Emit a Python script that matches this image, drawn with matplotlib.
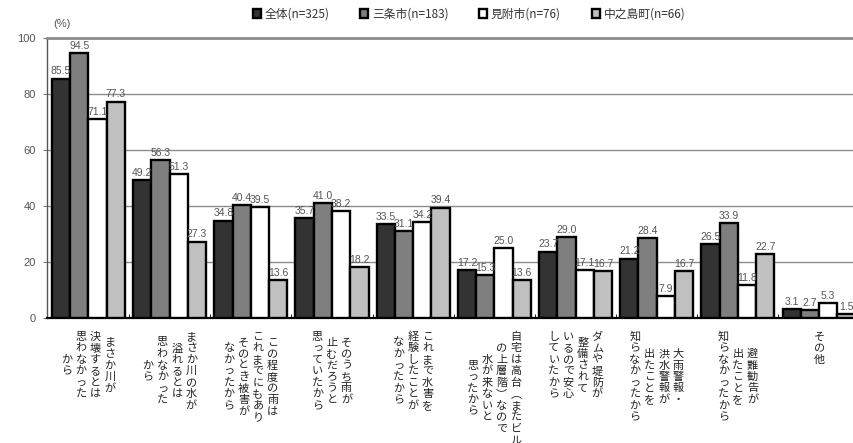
import matplotlib
matplotlib.use("Agg")
import numpy as np
import matplotlib.pyplot as plt

plt.rcParams['font.family'] = ['Noto Sans CJK JP', 'DejaVu Sans']

# reasons for not evacuating, one list of vertical text columns per category
reasons = [
    ["まさか川が", "決壊するとは", "思わなかった", "から"],
    ["まさか川の水が", "溢れるとは", "思わなかった", "から"],
    ["この程度の雨は", "これまでにもあり", "そのとき被害が", "なかったから"],
    ["そのうち雨が", "止むだろうと", "思っていたから"],
    ["これまで水害を", "経験したことが", "なかったから"],
    ["自宅は高台︵またビル", "の上層階︶なので", "水が来ないと", "思ったから"],
    ["ダムや堤防が", "整備されて", "いるので安心", "していたから"],
    ["大雨警報・", "洪水警報が", "出たことを", "知らなかったから"],
    ["避難勧告が", "出たことを", "知らなかったから"],
    ["その他"],
]
series = ["全体(n=325)", "三条市(n=183)", "見附市(n=76)", "中之島町(n=66)"]
zentai = [85.5, 49.2, 34.8, 35.7, 33.5, 17.2, 23.7, 21.2, 26.5, 3.1]
sanjo = [94.5, 56.3, 40.4, 41.0, 31.1, 15.3, 29.0, 28.4, 33.9, 2.7]
mitsuke = [71.1, 51.3, 39.5, 38.2, 34.2, 25.0, 17.1, 7.9, 11.8, 5.3]
nakanoshima = [77.3, 27.3, 13.6, 18.2, 39.4, 13.6, 16.7, 16.7, 22.7, 1.5]
colors = ['#333333', '#7f7f7f', '#ffffff', '#c0c0c0']

fig = plt.figure(figsize=(8.54, 4.43), dpi=100)
ax = fig.add_axes([47 / 854, 125 / 443, 1 - 47 / 854, 280 / 443])

x = np.arange(len(reasons))
w = 0.225
handles = []
for k, vals in enumerate([zentai, sanjo, mitsuke, nakanoshima]):
    pos = x + (k - 1.5) * w
    b = ax.bar(pos, vals, w, color=colors[k], edgecolor='black', linewidth=1.7,
               zorder=3, label=series[k])
    handles.append(b)
    for px, v in zip(pos, vals):
        ax.text(px, v + 0.8, f"{v:.1f}", ha='center', va='bottom', fontsize=7.5,
                color='#555555', family='Liberation Sans', zorder=4)

ax.set_xlim(-0.51, 9.43)
ax.set_ylim(0, 100)
ax.set_yticks(range(0, 101, 20))
ax.tick_params(axis='y', length=3, color='#777777', labelsize=8,
               labelcolor='#555555', pad=5)
for lab in ax.get_yticklabels():
    lab.set_family('Liberation Sans')
ax.set_xticks([])
ax.set_xticks(x[:-1] + 0.5, minor=True)
ax.tick_params(axis='x', which='minor', direction='in', length=3, color='black')
ax.yaxis.grid(True, color='#8c8c8c', linewidth=1)
ax.set_axisbelow(True)
ax.spines['top'].set_color('#8c8c8c')
ax.spines['top'].set_linewidth(2)
ax.spines['right'].set_visible(False)
ax.spines['left'].set_color('#555555')
ax.spines['left'].set_linewidth(1)
ax.spines['bottom'].set_linewidth(1.6)

# vertical category labels, columns read right to left
pitch = 11.5 * 0.72
colgap = 14.5 * 0.72
top = 13 * 0.72
for i, cols in enumerate(reasons):
    m = max(len(c) for c in cols)
    nc = len(cols)
    for j, col in enumerate(cols):
        dx = ((nc - 1) / 2 - j) * colgap
        start = top + (m - len(col)) * pitch / 2
        for k, ch in enumerate(col):
            dy = start + (k + 0.5) * pitch
            ax.annotate(ch, xy=(i, 0), xycoords=('data', 'axes fraction'),
                        xytext=(dx, -dy), textcoords='offset points',
                        ha='center', va='center', fontsize=8, color='#222222',
                        annotation_clip=False)

fig.text(53 / 854, 1 - 24 / 443, "(%)", ha='left', va='center', fontsize=8,
         color='#555555', family='Liberation Sans')
fig.legend(handles=handles, labels=series, loc='center',
           bbox_to_anchor=(0.549, 0.968), ncol=4, frameon=False, fontsize=8.5,
           handlelength=0.7, handleheight=0.7, handletextpad=0.3,
           columnspacing=2.6, labelcolor='#333333')

fig.savefig("out.png", dpi=100)
